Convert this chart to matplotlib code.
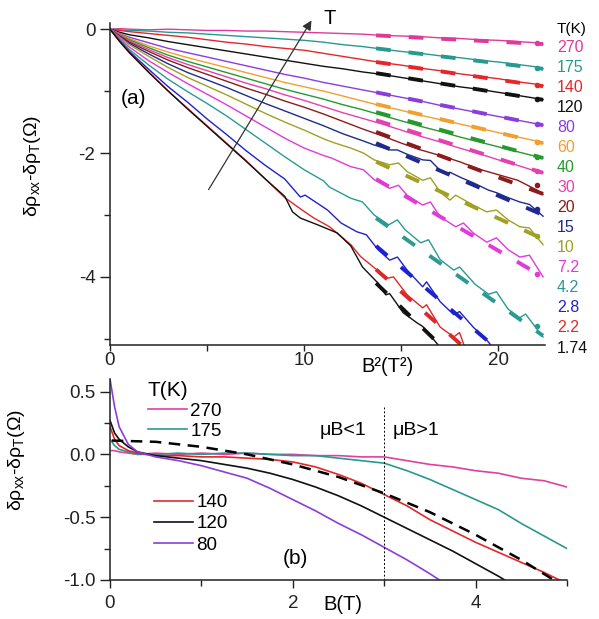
import numpy as np
import matplotlib
matplotlib.use("Agg")
import matplotlib.pyplot as plt
from matplotlib.ticker import FormatStrFormatter

plt.rcParams['font.family'] = ['Liberation Sans', 'DejaVu Sans']
plt.rcParams['mathtext.fontset'] = 'custom'
plt.rcParams['mathtext.rm'] = 'Liberation Sans'
plt.rcParams['mathtext.it'] = 'Liberation Sans'
plt.rcParams['mathtext.default'] = 'regular'
plt.rcParams['axes.unicode_minus'] = False

# ---- panel (a): delta rho vs B^2 ----
temps_a = ['270', '175', '140', '120', '80', '60', '40', '30', '20', '15', '10', '7.2', '4.2', '2.8', '2.2', '1.74']
colors_a = ['#de3a9a', '#27998f', '#e5262b', '#111111', '#8a3ddc', '#f0a030', '#279a2e', '#e640b0',
            '#8b1c1c', '#1f2b8c', '#a0a024', '#e03ad8', '#2a9a92', '#1f22cc', '#e02828', '#111111']

# common B^2 grid for the smoother high-T traces
b2 = [0, 0.5, 1, 2, 3, 4, 5, 6, 7, 8, 9, 10, 11, 12, 13, 14, 15, 16, 17, 18, 19, 20, 21, 22, 22.3]

rho_270 = [0, 0.01, 0, -0.01, 0, -0.01, -0.02, -0.02, -0.03, -0.03, -0.04, -0.05, -0.06, -0.07, -0.08, -0.10, -0.11, -0.12, -0.14, -0.15, -0.17, -0.18, -0.20, -0.22, -0.24]
rho_175 = [0, -0.01, -0.02, -0.03, -0.05, -0.06, -0.08, -0.10, -0.12, -0.14, -0.16, -0.18, -0.21, -0.25, -0.28, -0.32, -0.36, -0.39, -0.43, -0.46, -0.50, -0.53, -0.57, -0.61, -0.64]
rho_140 = [0, -0.02, -0.04, -0.07, -0.10, -0.13, -0.17, -0.21, -0.24, -0.28, -0.31, -0.34, -0.39, -0.44, -0.49, -0.54, -0.58, -0.63, -0.67, -0.72, -0.76, -0.80, -0.85, -0.89, -0.91]
rho_120 = [0, -0.05, -0.09, -0.14, -0.20, -0.25, -0.30, -0.35, -0.40, -0.45, -0.50, -0.55, -0.60, -0.64, -0.69, -0.73, -0.78, -0.83, -0.88, -0.93, -0.97, -1.02, -1.07, -1.12, -1.14]
rho_80 = [0, -0.07, -0.13, -0.22, -0.31, -0.38, -0.45, -0.52, -0.59, -0.66, -0.73, -0.79, -0.86, -0.92, -0.98, -1.04, -1.10, -1.16, -1.23, -1.29, -1.35, -1.41, -1.47, -1.53, -1.55]
rho_60 = [0, -0.08, -0.15, -0.27, -0.37, -0.46, -0.54, -0.62, -0.70, -0.78, -0.86, -0.93, -1.00, -1.08, -1.16, -1.24, -1.31, -1.39, -1.46, -1.53, -1.60, -1.67, -1.74, -1.81, -1.84]
rho_40 = [0, -0.09, -0.17, -0.30, -0.42, -0.52, -0.61, -0.70, -0.79, -0.88, -0.97, -1.05, -1.13, -1.22, -1.30, -1.39, -1.48, -1.57, -1.65, -1.74, -1.82, -1.90, -1.98, -2.06, -2.08]
rho_30 = [0, -0.10, -0.19, -0.33, -0.46, -0.57, -0.67, -0.77, -0.87, -0.96, -1.06, -1.15, -1.25, -1.35, -1.44, -1.53, -1.63, -1.73, -1.82, -1.92, -2.01, -2.11, -2.20, -2.30, -2.32]
rho_20 = [0, -0.11, -0.21, -0.36, -0.50, -0.62, -0.73, -0.84, -0.95, -1.05, -1.16, -1.26, -1.37, -1.49, -1.61, -1.72, -1.84, -1.95, -2.04, -2.14, -2.26, -2.35, -2.44, -2.60, -2.67]

# low-T traces carry the oscillations, so they get their own B^2 points
b2_15 = [0, 0.5, 1, 2, 3, 4, 5, 6, 7, 8, 9, 10, 11, 12, 13, 13.6, 14.4, 14.8, 15.3, 16.1, 16.5, 17.0, 17.3,
         17.5, 18.1, 18.7, 19.5, 19.9, 20.5, 21.1, 21.6, 22.3]
rho_15 = [0, -0.12, -0.23, -0.40, -0.56, -0.70, -0.82, -0.94, -1.07, -1.20, -1.32, -1.44, -1.56, -1.69, -1.80,
          -1.87, -1.95, -1.95, -2.02, -2.11, -2.12, -2.28, -2.33, -2.31, -2.40, -2.48, -2.60, -2.64, -2.72,
          -2.79, -2.83, -3.02]
b2_10 = [0, 0.5, 1, 2, 3, 4, 5, 6, 7, 8, 9, 10, 11, 11.5, 12.4, 13.05, 13.6, 14.4, 14.85, 15.3, 16.1, 16.5,
         17.0, 17.5, 17.8, 18.7, 19.4, 19.9, 20.5, 21.1, 21.6, 22.3]
rho_10 = [0, -0.13, -0.25, -0.44, -0.62, -0.78, -0.92, -1.06, -1.21, -1.36, -1.50, -1.63, -1.77, -1.83, -1.92,
          -2.00, -2.11, -2.19, -2.16, -2.30, -2.44, -2.40, -2.63, -2.76, -2.68, -2.84, -2.95, -2.92, -3.08,
          -3.19, -3.21, -3.48]
b2_7p2 = [0, 0.5, 1, 2, 3, 4, 5, 6, 7, 8, 9, 10, 11, 11.4, 12.4, 13.05, 13.6, 14.4, 14.85, 15.3, 16.1, 16.5,
          17.0, 17.8, 18.2, 18.7, 19.4, 19.9, 20.5, 21.1, 21.6, 22.3]
rho_7p2 = [0, -0.15, -0.29, -0.51, -0.70, -0.88, -1.05, -1.22, -1.40, -1.58, -1.76, -1.92, -2.04, -2.08, -2.22,
           -2.27, -2.43, -2.57, -2.52, -2.68, -2.84, -2.79, -3.03, -3.19, -3.13, -3.29, -3.44, -3.37, -3.56,
           -3.68, -3.65, -4.00]
b2_4p2 = [0, 0.5, 1, 2, 3, 4, 5, 6, 7, 8, 9, 10, 11, 11.3, 12.4, 13.0, 13.6, 14.35, 14.8, 15.2, 16.0, 16.4,
          17.0, 17.7, 18.0, 18.8, 19.5, 19.9, 20.5, 21.1, 21.4, 22.0, 22.3]
rho_4p2 = [0, -0.17, -0.33, -0.58, -0.81, -1.01, -1.20, -1.40, -1.62, -1.84, -2.06, -2.27, -2.45, -2.55, -2.73,
           -2.79, -3.00, -3.16, -3.08, -3.24, -3.45, -3.40, -3.72, -3.89, -3.84, -4.12, -4.28, -4.24, -4.52,
           -4.66, -4.60, -4.85, -4.97]
b2_2p8 = [0, 0.5, 1, 2, 3, 4, 5, 6, 7, 8, 9, 9.8, 10.05, 11.2, 11.9, 12.7, 13.2, 13.8, 14.4, 14.8, 15.3, 16.1,
          16.3, 17.0, 17.7, 18.0, 18.7, 19.4, 20.0]
rho_2p8 = [0, -0.19, -0.36, -0.65, -0.93, -1.18, -1.45, -1.70, -1.96, -2.20, -2.42, -2.71, -2.68, -2.92, -3.13,
           -3.27, -3.32, -3.56, -3.73, -3.68, -3.89, -4.16, -4.08, -4.40, -4.61, -4.56, -4.81, -5.02, -5.25]
b2_2p2 = [0, 0.5, 1, 2, 3, 4, 5, 6, 7, 8, 9, 9.8, 10.5, 11.3, 12.4, 12.9, 13.6, 14.3, 14.6, 15.3, 16.1, 16.3,
          17.0, 17.7, 18.0, 18.4]
rho_2p2 = [0, -0.20, -0.38, -0.69, -1.00, -1.28, -1.56, -1.84, -2.12, -2.42, -2.72, -2.90, -3.05, -3.19, -3.48,
           -3.67, -3.85, -4.02, -4.00, -4.29, -4.50, -4.45, -4.81, -4.97, -4.90, -5.25]
b2_1p74 = [0, 0.5, 1, 2, 3, 4, 5, 6, 7, 8, 9, 9.4, 9.8, 10.7, 11.7, 12.4, 13.0, 13.8, 14.2, 14.4, 15.1, 15.8,
           16.1, 16.9, 17.3]
rho_1p74 = [0, -0.20, -0.38, -0.70, -1.00, -1.29, -1.57, -1.85, -2.13, -2.42, -2.70, -2.95, -3.05, -3.16, -3.29,
            -3.50, -3.84, -4.10, -4.29, -4.27, -4.58, -4.74, -4.80, -5.10, -5.30]

xs_a = [b2] * 9 + [b2_15, b2_10, b2_7p2, b2_4p2, b2_2p8, b2_2p2, b2_1p74]
curves_a = [rho_270, rho_175, rho_140, rho_120, rho_80, rho_60, rho_40, rho_30, rho_20, rho_15,
            rho_10, rho_7p2, rho_4p2, rho_2p8, rho_2p2, rho_1p74]

# straight-line fits (start/end in B^2 and value)
fit_x0 = [13.7] * 16
fit_x1 = [22.3, 22.3, 22.3, 22.3, 22.3, 22.3, 22.3, 22.3, 22.3, 22.3, 22.3, 22.3, 22.3, 19.7, 18.1, 17.0]
fit_y0 = [-0.10, -0.31, -0.53, -0.71, -1.02, -1.21, -1.34, -1.47, -1.66, -1.84, -2.14, -2.42, -3.05, -3.50, -3.88, -4.10]
fit_y1 = [-0.24, -0.64, -0.92, -1.14, -1.55, -1.84, -2.08, -2.32, -2.66, -3.00, -3.39, -4.00, -4.95, -5.10, -5.10, -5.10]
dot_x = 22.0
dot_y = [-0.23, -0.62, -0.90, -1.12, -1.53, -1.82, -2.06, -2.29, -2.52, -2.90, -3.34, -3.95, -4.80]

# ---- panel (b): delta rho vs B ----
temps_b = ['270', '175', '140', '120', '80']
colors_b = ['#e040a0', '#27998f', '#e5262b', '#111111', '#8a3ddc']
b = [0, 0.05, 0.1, 0.2, 0.3, 0.5, 0.75, 1.0, 1.25, 1.5, 1.75, 2.0, 2.25, 2.5, 2.75, 3.0, 3.25, 3.5, 3.75,
     4.0, 4.25, 4.5, 4.75, 5.0]
r_270 = [0.03, 0.03, 0.02, 0.01, 0.0, 0.01, 0.0, 0.01, 0.0, 0.01, 0.0, 0.0, -0.01, -0.01, -0.02, -0.02,
         -0.05, -0.08, -0.10, -0.13, -0.15, -0.19, -0.21, -0.26]
r_175 = [0.12, 0.07, 0.04, 0.02, 0.0, 0.0, 0.01, 0.0, 0.01, 0.01, 0.0, -0.01, -0.01, -0.03, -0.05, -0.07,
         -0.13, -0.20, -0.28, -0.36, -0.44, -0.55, -0.65, -0.75]
r_140 = [0.22, 0.12, 0.07, 0.03, 0.01, -0.01, -0.01, -0.02, -0.02, -0.03, -0.04, -0.06, -0.10, -0.16, -0.23,
         -0.32, -0.41, -0.52, -0.61, -0.70, -0.78, -0.86, -0.94, -1.03]
r_120 = [0.27, 0.17, 0.12, 0.06, 0.02, -0.01, -0.03, -0.05, -0.08, -0.11, -0.15, -0.20, -0.26, -0.33, -0.41,
         -0.50, -0.59, -0.68, -0.77, -0.87, -0.97, -1.08, -1.18, -1.25]
r_80 = [0.60, 0.38, 0.22, 0.08, 0.02, -0.02, -0.05, -0.09, -0.14, -0.19, -0.27, -0.36, -0.45, -0.55, -0.64,
        -0.74, -0.84, -0.95, -1.07, -1.20, -1.30, -1.40, -1.50, -1.60]
curves_b = [r_270, r_175, r_140, r_120, r_80]

fit_b = [0.02, 0.5, 1.0, 1.5, 2.0, 2.5, 3.0, 3.5, 4.0, 4.5, 4.9]
fit_r = [0.11, 0.10, 0.06, 0.0, -0.08, -0.18, -0.31, -0.46, -0.64, -0.84, -1.02]

W, H = 599, 619
fig = plt.figure(figsize=(W / 100, H / 100), dpi=100)

def style_axes(ax):
    for s in ['top', 'right']:
        ax.spines[s].set_visible(False)
    for s in ['left', 'bottom']:
        ax.spines[s].set_linewidth(1.1)
        ax.spines[s].set_color('#222222')
    ax.tick_params(which='both', direction='out', colors='#222222', labelsize=13.5, width=1.0)

ylab = r'$\delta\rho_{xx}$-$\delta\rho_{T}$($\Omega$)'

# panel (a)
ax1 = fig.add_axes([110 / W, 1 - 345 / H, 435 / W, 322 / H])
style_axes(ax1)
for xs, ys, c in zip(xs_a, curves_a, colors_a):
    ax1.plot(xs, ys, color=c, lw=1.0)
for i, c in enumerate(colors_a):
    ax1.plot([fit_x0[i], fit_x1[i]], [fit_y0[i], fit_y1[i]], color=c, lw=2.8,
             dashes=(3.8, 4.6), dash_capstyle='butt')
for i, y in enumerate(dot_y):
    ax1.plot([dot_x], [y], 'o', color=colors_a[i], ms=3)
ax1.set_xlim(0, 22.4)
ax1.set_ylim(-5.1, 0.1)
ax1.set_xticks([0, 10, 20])
ax1.set_xticks([5, 15], minor=True)
ax1.set_yticks([0, -2, -4])
ax1.set_yticks([-1, -3, -5], minor=True)
ax1.tick_params(axis='y', which='major', length=7.5, pad=3)
ax1.tick_params(axis='y', which='minor', length=4)
ax1.tick_params(axis='x', which='major', length=4, pad=1)
ax1.tick_params(axis='x', which='minor', length=4)
ax1.set_ylabel(ylab, fontsize=14)
ax1.yaxis.set_label_coords(-0.154, 0.556)
ax1.text(0.637, -0.068, 'B²(T²)', transform=ax1.transAxes, ha='center', va='center', fontsize=14.5)
ax1.text(0.055, 0.766, '(a)', transform=ax1.transAxes, ha='center', va='center', fontsize=15)
ax1.annotate('', xy=(10.45, 0.18), xytext=(5.0, -2.63), annotation_clip=False,
             arrowprops=dict(arrowstyle='-|>', color='#333333', lw=0.9, mutation_scale=14))
ax1.text(11.0, 0.18, 'T', ha='left', va='center', fontsize=14.5, clip_on=False)

fig.text(557 / W, 1 - 29 / H, 'T(K)', ha='left', va='center', fontsize=11)
for i, (t, c) in enumerate(zip(temps_a, colors_a)):
    fig.text(557 / W, 1 - (47 + 20.07 * i) / H, t, color=c, ha='left', va='center', fontsize=11.5)

# panel (b)
ax2 = fig.add_axes([110 / W, 1 - 580 / H, 457 / W, 201 / H])
style_axes(ax2)
lines = []
for ys, c, t in zip(curves_b, colors_b, temps_b):
    ln, = ax2.plot(b, ys, color=c, lw=1.2, label=t)
    lines.append(ln)
ax2.plot(fit_b, fit_r, color='black', lw=1.8, dashes=(4.6, 3.0))
ax2.axvline(3.0, ymax=0.86, color='black', lw=0.7, dashes=(2, 2))
ax2.set_xlim(0, 5)
ax2.set_ylim(-1.0, 0.6)
ax2.set_xticks([0, 2, 4])
ax2.set_xticks([1, 3, 5], minor=True)
ax2.set_yticks([-1.0, -0.5, 0.0, 0.5])
ax2.set_yticks([-0.75, -0.25, 0.25], minor=True)
ax2.yaxis.set_major_formatter(FormatStrFormatter('%.1f'))
ax2.tick_params(axis='y', which='major', length=7.5, pad=3)
ax2.tick_params(axis='y', which='minor', length=4)
ax2.tick_params(axis='x', which='major', length=6, pad=5)
ax2.tick_params(axis='x', which='minor', length=4)
ax2.set_ylabel(ylab, fontsize=14)
ax2.yaxis.set_label_coords(-0.182, 0.597)
ax2.text(0.51, -0.124, 'B(T)', transform=ax2.transAxes, ha='center', va='center', fontsize=14.5)
ax2.text(0.405, 0.105, '(b)', transform=ax2.transAxes, ha='center', va='center', fontsize=15)
ax2.text(2.55, 0.19, 'μB<1', ha='center', va='center', fontsize=14)
ax2.text(3.35, 0.19, 'μB>1', ha='center', va='center', fontsize=14)

leg_kw = dict(loc='upper left', frameon=False, bbox_transform=fig.transFigure, borderpad=0,
              borderaxespad=0, handlelength=2.1, handletextpad=0.15, fontsize=13.5)
leg1 = ax2.legend(handles=lines[:2], title='T(K)', bbox_to_anchor=(148 / W, 1 - 381 / H),
                  title_fontsize=15, alignment='left', labelspacing=0.15, **leg_kw)
ax2.add_artist(leg1)
ax2.legend(handles=lines[2:], bbox_to_anchor=(154 / W, 1 - 494 / H), labelspacing=0.22, **leg_kw)

fig.savefig('out.png', dpi=100)
